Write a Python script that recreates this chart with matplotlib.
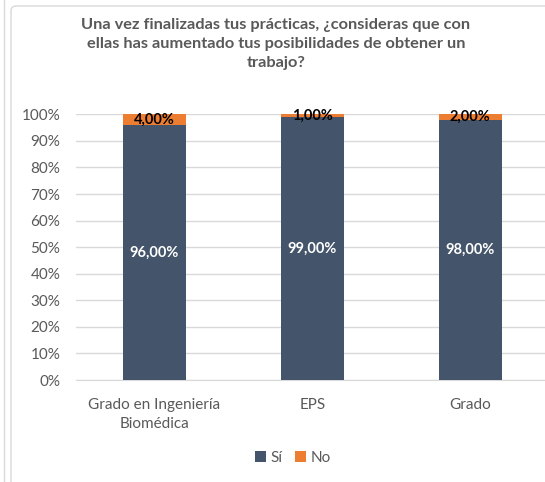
import matplotlib
matplotlib.use("Agg")
import matplotlib.pyplot as plt
from matplotlib.patches import FancyBboxPatch
from matplotlib.lines import Line2D

categories = ["Grado en Ingeniería\nBiomédica", "EPS", "Grado"]
si = [96.0, 99.0, 98.0]
no = [4.0, 1.0, 2.0]
yticks = [0, 10, 20, 30, 40, 50, 60, 70, 80, 90, 100]
title = "Una vez finalizadas tus prácticas, ¿consideras que con\nellas has aumentado tus posibilidades de obtener un\ntrabajo?"

FONT = ["Lato", "DejaVu Sans"]
plt.rcParams['font.family'] = FONT

W, H = 545, 482
fig = plt.figure(figsize=(W/100, H/100), dpi=100)

# frame lines
fig.add_artist(Line2D([4/W, 4/W], [0, 1], color="#D9D9D9", lw=1, zorder=-10))
box = FancyBboxPatch((11/W, -0.05), 1.0, 1 - 6/H + 0.05, boxstyle="round,pad=0,rounding_size=0.01",
                     transform=fig.transFigure, fc="white", ec="#D9D9D9", lw=1, zorder=-10)
fig.add_artist(box)

ax = fig.add_axes([75.6/W, 1 - 380/H, (549 - 75.6)/W, (380 - 114.3)/H])
ax.set_zorder(1)
x = list(range(len(categories)))
c_si = "#44546A"
c_no = "#ED7D31"
b1 = ax.bar(x, si, width=0.40, color=c_si, label="Sí", zorder=3)
b2 = ax.bar(x, no, width=0.40, bottom=si, color=c_no, label="No", zorder=3)

for xi, s, n in zip(x, si, no):
    ax.text(xi, s/2, f"{s:.2f}%".replace(".", ","), ha="center", va="center",
            color="white", fontweight="bold", fontsize=10.5, zorder=4)
    ax.text(xi, s + n/2, f"{n:.2f}%".replace(".", ","), ha="center", va="center",
            color="black", fontweight="bold", fontsize=10.5, zorder=4)

ax.set_xlim(-0.5, len(categories) - 0.5)
ax.set_ylim(0, 100)
ax.set_yticks(yticks)
ax.set_yticklabels([f"{v}%" for v in yticks])
ax.set_xticks(x)
ax.set_xticklabels(categories, linespacing=1.45)
ax.tick_params(axis="both", length=0, colors="#595959", labelsize=11)
ax.tick_params(axis="y", pad=11)
ax.tick_params(axis="x", pad=13)
ax.grid(axis="y", color="#D9D9D9", lw=1, zorder=0)
for s in ["left", "right", "top"]:
    ax.spines[s].set_visible(False)
ax.spines["bottom"].set_color("#D9D9D9")
ax.set_facecolor("none")

fig.text(276/W, 1 - 44/H, title, ha="center", va="center", fontsize=11.8,
         fontweight="bold", color="#595959", linespacing=1.5)

leg = fig.legend(handles=[b1, b2], labels=["Sí", "No"], loc="center",
                 bbox_to_anchor=(293/W, 1 - 458/H), ncol=2, frameon=False,
                 fontsize=11, handlelength=0.7, handleheight=0.7, handletextpad=0.3,
                 columnspacing=0.8)
for t in leg.get_texts():
    t.set_color("#595959")

fig.savefig("out.png", dpi=100)
